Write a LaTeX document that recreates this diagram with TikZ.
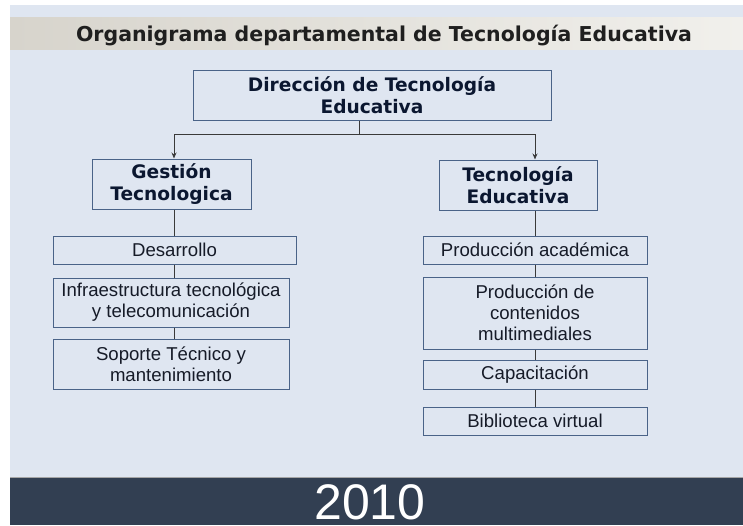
\documentclass[tikz,border=0pt]{standalone}
\usepackage{fontspec}
\setmainfont{Liberation Sans}
\newfontfamily\headfont{DejaVu Sans}
\usetikzlibrary{arrows.meta}
\definecolor{bgblue}{HTML}{DFE6F1}
\definecolor{barcol}{HTML}{323F52}
\definecolor{boxline}{HTML}{4A6388}
\definecolor{navy}{HTML}{0B1730}
\definecolor{txt}{HTML}{161B28}
\definecolor{conn}{HTML}{3A3A3A}
\definecolor{bandL}{HTML}{D7D4CC}
\definecolor{bandR}{HTML}{F1F0EC}
\tikzset{
  box/.style={draw=boxline, line width=1pt, rectangle, inner sep=0pt, align=center, text=txt,
    font=\fontsize{18.6}{21}\selectfont},
  headbox/.style={box, text=navy, font=\headfont\bfseries\fontsize{18.6}{21.5}\selectfont},
  link/.style={draw=conn, line width=1pt},
  arrowlink/.style={link, -{Stealth[length=6pt,width=5pt]}},
}
\begin{document}
\begin{tikzpicture}[x=1pt,y=-1pt]
\useasboundingbox (0,0) rectangle (743,525);
\fill[white] (0,0) rectangle (743,525);
\fill[bgblue] (10,5) rectangle (743,477);
\shade[left color=bandL, right color=bandR] (10,17) rectangle (743,49);
\fill[barcol] (10,477) rectangle (743,525);
\draw[color=gray!70, line width=0.8pt] (10,477) -- (743,477);

\node[anchor=base, inner sep=0pt, text=black!88, font=\headfont\bfseries\fontsize{20.5}{24}\selectfont] (title) at (384,41) {Organigrama departamental de Tecnología Educativa};

\node[anchor=base, inner sep=0pt, text=white, font=\fontsize{50}{50}\selectfont] (year) at (370,519) {2010};

% top box
\node[headbox, minimum width=358pt, minimum height=50pt] (dir) at (372,95) {Dirección de Tecnología\\Educativa};

% level 2
\node[headbox, minimum width=159pt, minimum height=50pt] (gest) at (171.5,184) {Gestión\\Tecnologica};
\node[headbox, minimum width=158pt, minimum height=50pt] (tec) at (518,185) {Tecnología\\Educativa};

% left column
\node[box, minimum width=243pt, minimum height=28pt] (des) at (174.5,250) {Desarrollo};
\node[box, minimum width=236pt, minimum height=49pt] (inf) at (171,302.5) {Infraestructura tecnológica\\y telecomunicación};
\node[box, minimum width=236pt, minimum height=50pt] (sop) at (171,364) {Soporte Técnico y\\mantenimiento};

% right column
\node[box, minimum width=224pt, minimum height=28pt] (pa) at (535,250) {Producción académica};
\node[box, minimum width=224pt, minimum height=72pt] (pc) at (535,313) {Producción de\\contenidos\\multimediales};
\node[box, minimum width=224pt, minimum height=29pt] (cap) at (535,374.5) {Capacitación};
\node[box, minimum width=224pt, minimum height=28pt] (bib) at (535,421) {Biblioteca virtual};

% connectors from the top
\coordinate (hub) at (359,134);
\draw[link] ([xshift=-13pt]dir.south) -- (hub);
\draw[arrowlink] (hub) -| ([xshift=2.5pt]gest.north);
\draw[arrowlink] (hub) -| ([xshift=17pt]tec.north);

% left chain
\draw[link] (gest.south -| des.north) -- (des.north);
\draw[link] (des.south) -- (inf.north -| des.south);
\draw[link] (inf.south -| des.south) -- (sop.north -| des.south);

% right chain
\draw[link] (tec.south -| pa.north) -- (pa.north);
\draw[link] (pa.south) -- (pc.north);
\draw[link] (pc.south) -- (cap.north);
\draw[link] (cap.south) -- (bib.north);
\end{tikzpicture}
\end{document}
